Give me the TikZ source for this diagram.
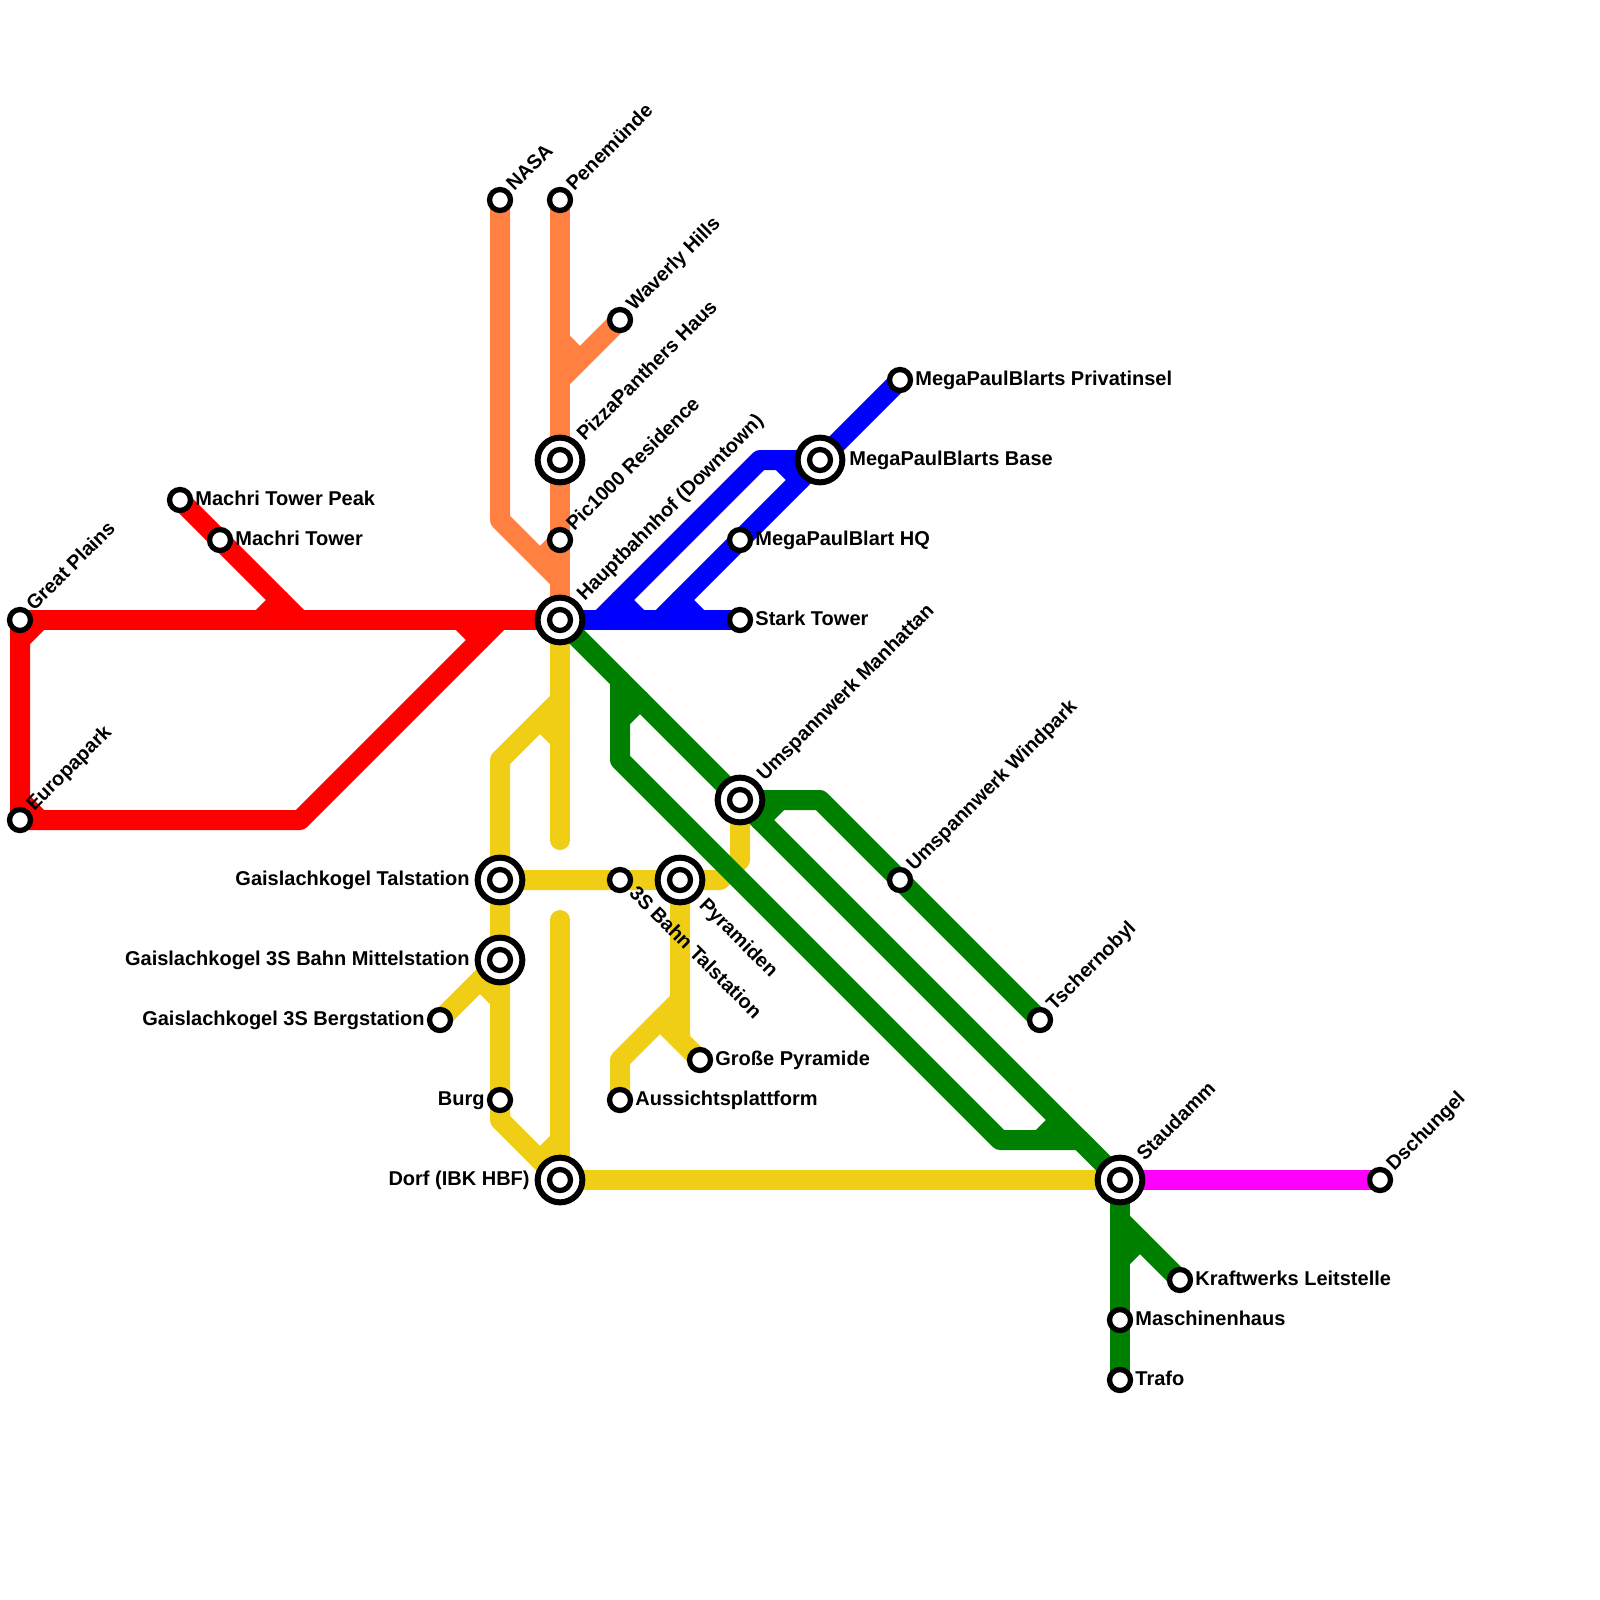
\documentclass[tikz,border=0pt]{standalone}
\usepackage{fontspec}
\setmainfont{Liberation Sans}
\usetikzlibrary{backgrounds}
\definecolor{lred}{HTML}{FF0000}
\definecolor{lorange}{HTML}{FF8040}
\definecolor{lblue}{HTML}{0000FF}
\definecolor{lgreen}{HTML}{008000}
\definecolor{lyellow}{HTML}{F0CE15}
\definecolor{lmag}{HTML}{FF00FF}
\tikzset{
  stn/.style={circle,draw=black,fill=white,line width=2.65pt,inner sep=0pt,outer sep=0pt,minimum size=10.5pt},
  bigring/.style={circle,draw=black,fill=white,line width=3pt,inner sep=0pt,outer sep=0pt,minimum size=22.35pt},
  route/.style={line width=10pt,line cap=round,line join=round},
  txt/.style={inner sep=0pt,font=\fontsize{10pt}{11pt}\selectfont\bfseries,text=black},
  rtxt/.style={inner sep=0pt,font=\fontsize{9.93pt}{11pt}\selectfont\bfseries,text=black},
  lne/.style={rtxt,anchor=base west,rotate=45},
  lse/.style={rtxt,anchor=base west,rotate=-45},
  lr/.style={txt,anchor=base west},
  ll/.style={txt,anchor=base east},
}
\newcommand\StnS[3]{\node[stn] (#1) at (#2,#3) {};}
\newcommand\StnB[3]{\node[bigring] (#1) at (#2,#3) {};\node[stn] (#1-in) at (#2,#3) {};}
\newcommand\Way[3]{\coordinate (#1) at (#2,#3);}
\begin{document}
\begin{tikzpicture}[x=0.5pt,y=-0.5pt]
\useasboundingbox (0,0) rectangle (1600,1600);
% stations
\StnS{great}{20}{620}\StnS{euro}{20}{820}\StnS{peak}{180}{500}\StnS{machri}{220}{540}
\StnS{nasa}{500}{200}\StnS{pene}{560}{200}\StnS{waverly}{620}{320}\StnS{pic}{560}{540}
\StnS{privat}{900}{380}\StnS{hq}{740}{540}\StnS{stark}{740}{620}
\StnS{wind}{900}{880}\StnS{tscher}{1040}{1020}\StnS{dschungel}{1380}{1180}
\StnS{kraft}{1180}{1280}\StnS{masch}{1120}{1320}\StnS{trafo}{1120}{1380}
\StnS{talst}{620}{880}\StnS{berg}{440}{1020}\StnS{burg}{500}{1100}
\StnS{gross}{700}{1060}\StnS{auss}{620}{1100}
\StnB{hub}{560}{620}\StnB{pizza}{560}{460}\StnB{base}{820}{460}\StnB{manh}{740}{800}
\StnB{stau}{1120}{1180}\StnB{gtal}{500}{880}\StnB{gmit}{500}{960}\StnB{dorf}{560}{1180}\StnB{pyr}{680}{880}
% labels
\node[lne] (great-l) at ([shift={(14,-8)}]great.center) {Great Plains};
\node[lne] (euro-l) at ([shift={(14,-8)}]euro.center) {Europapark};
\node[lne] (nasa-l) at ([shift={(14,-8)}]nasa.center) {NASA};
\node[lne] (pene-l) at ([shift={(14,-8)}]pene.center) {Penemünde};
\node[lne] (waverly-l) at ([shift={(14,-8)}]waverly.center) {Waverly Hills};
\node[lne] (pic-l) at ([shift={(14,-8)}]pic.center) {Pic1000 Residence};
\node[lne] (wind-l) at ([shift={(14,-8)}]wind.center) {Umspannwerk Windpark};
\node[lne] (tscher-l) at ([shift={(14,-8)}]tscher.center) {Tschernobyl};
\node[lne] (dschungel-l) at ([shift={(14,-8)}]dschungel.center) {Dschungel};
\node[lne] (pizza-l) at ([shift={(24.5,-18)}]pizza.center) {PizzaPanthers Haus};
\node[lne] (hub-l) at ([shift={(24.5,-18)}]hub.center) {Hauptbahnhof (Downtown)};
\node[lne] (manh-l) at ([shift={(24.5,-18)}]manh.center) {Umspannwerk Manhattan};
\node[lne] (stau-l) at ([shift={(24.5,-18)}]stau.center) {Staudamm};
\node[lse] (talst-l) at ([shift={(8,14)}]talst.center) {3S Bahn Talstation};
\node[lse] (pyr-l) at ([shift={(18,26)}]pyr.center) {Pyramiden};
\node[lr] (peak-l) at ([shift={(15,5.5)}]peak.center) {Machri Tower Peak};
\node[lr] (machri-l) at ([shift={(15,5.5)}]machri.center) {Machri Tower};
\node[lr] (hq-l) at ([shift={(15,5.5)}]hq.center) {MegaPaulBlart HQ};
\node[lr] (stark-l) at ([shift={(15,5.5)}]stark.center) {Stark Tower};
\node[lr] (privat-l) at ([shift={(15,5.5)}]privat.center) {MegaPaulBlarts Privatinsel};
\node[lr] (gross-l) at ([shift={(15,5.5)}]gross.center) {Große Pyramide};
\node[lr] (auss-l) at ([shift={(15,5.5)}]auss.center) {Aussichtsplattform};
\node[lr] (kraft-l) at ([shift={(15,5.5)}]kraft.center) {Kraftwerks Leitstelle};
\node[lr] (masch-l) at ([shift={(15,5.5)}]masch.center) {Maschinenhaus};
\node[lr] (trafo-l) at ([shift={(15,5.5)}]trafo.center) {Trafo};
\node[lr] (base-l) at ([shift={(29,5.5)}]base.center) {MegaPaulBlarts Base};
\node[ll] (gtal-l) at ([shift={(-30,5.5)}]gtal.center) {Gaislachkogel Talstation};
\node[ll] (gmit-l) at ([shift={(-30,5.5)}]gmit.center) {Gaislachkogel 3S Bahn Mittelstation};
\node[ll] (dorf-l) at ([shift={(-30,5.5)}]dorf.center) {Dorf (IBK HBF)};
\node[ll] (berg-l) at ([shift={(-15,5.5)}]berg.center) {Gaislachkogel 3S Bergstation};
\node[ll] (burg-l) at ([shift={(-15,5.5)}]burg.center) {Burg};
% waypoints
\Way{r1}{40}{620}\Way{r2}{20}{640}\Way{r3}{20}{800}\Way{r4}{40}{820}\Way{r5}{300}{820}\Way{r6}{500}{620}
\Way{r7}{480}{640}\Way{r8}{460}{620}\Way{r9}{280}{600}\Way{r10}{300}{620}\Way{r11}{260}{620}
\Way{o1}{500}{520}\Way{o2}{560}{580}\Way{o3}{540}{560}\Way{o4}{580}{360}\Way{o5}{560}{380}\Way{o6}{560}{340}
\Way{b1}{600}{620}\Way{b2}{760}{460}\Way{b3}{660}{620}\Way{b4}{620}{600}\Way{b5}{640}{620}\Way{b6}{680}{600}\Way{b7}{700}{620}\Way{b8}{780}{460}\Way{b9}{800}{480}
\Way{g1}{620}{680}\Way{g2}{620}{760}\Way{g3}{1000}{1140}\Way{g4}{1080}{1140}\Way{g5}{620}{720}\Way{g6}{640}{700}
\Way{g7}{820}{800}\Way{g8}{760}{820}\Way{g9}{780}{800}\Way{g10}{1040}{1140}\Way{g11}{1060}{1120}
\Way{g12}{1120}{1220}\Way{g13}{1120}{1260}\Way{g14}{1140}{1240}
\Way{y1}{560}{840}\Way{y2}{560}{700}\Way{y3}{500}{760}\Way{y4}{540}{720}\Way{y5}{560}{740}
\Way{y6}{720}{880}\Way{y7}{740}{860}\Way{y8}{560}{920}\Way{y9}{500}{1120}\Way{y10}{540}{1160}\Way{y11}{560}{1140}
\Way{y12}{480}{980}\Way{y13}{500}{1000}
\Way{y14}{680}{1040}\Way{y15}{680}{1000}\Way{y16}{620}{1060}\Way{y17}{660}{1020}
% routes
\begin{scope}[on background layer]
\draw[route,lyellow] (hub.center) -- (y1);
\draw[route,lyellow] (y2) -- (y3) -- (gtal.center) -- (gmit.center) -- (burg.center) -- (y9) -- (dorf.center);
\draw[route,lyellow] (y4) -- (y5);
\draw[route,lyellow] (gtal.center) -- (talst.center) -- (pyr.center) -- (y6) -- (y7) -- (manh.center);
\draw[route,lyellow] (y8) -- (dorf.center) -- (stau.center);
\draw[route,lyellow] (y10) -- (y11);
\draw[route,lyellow] (berg.center) -- (gmit.center);
\draw[route,lyellow] (y12) -- (y13);
\draw[route,lyellow] (pyr.center) -- (y14) -- (gross.center);
\draw[route,lyellow] (y15) -- (y16) -- (auss.center);
\draw[route,lyellow] (y17) -- (y14);
\draw[route,lred] (great.center) -- (hub.center);
\draw[route,lred] (r1) -- (r2);
\draw[route,lred] (great.center) -- (euro.center) -- (r5) -- (r6);
\draw[route,lred] (r3) -- (r4);
\draw[route,lred] (r7) -- (r8);
\draw[route,lred] (peak.center) -- (machri.center) -- (r10);
\draw[route,lred] (r9) -- (r11);
\draw[route,lorange] (nasa.center) -- (o1) -- (o2);
\draw[route,lorange] (pene.center) -- (pizza.center) -- (pic.center) -- (hub.center);
\draw[route,lorange] (pic.center) -- (o3);
\draw[route,lorange] (waverly.center) -- (o5);
\draw[route,lorange] (o6) -- (o4);
\draw[route,lblue] (hub.center) -- (stark.center);
\draw[route,lblue] (b1) -- (b2) -- (base.center) -- (privat.center);
\draw[route,lblue] (b3) -- (hq.center) -- (base.center);
\draw[route,lblue] (b4) -- (b5);
\draw[route,lblue] (b6) -- (b7);
\draw[route,lblue] (b8) -- (b9);
\draw[route,lgreen] (hub.center) -- (manh.center) -- (stau.center);
\draw[route,lgreen] (g1) -- (g2) -- (g3) -- (g4) -- (stau.center);
\draw[route,lgreen] (g5) -- (g6);
\draw[route,lgreen] (manh.center) -- (g7) -- (wind.center) -- (tscher.center);
\draw[route,lgreen] (g8) -- (g9);
\draw[route,lgreen] (g10) -- (g11);
\draw[route,lgreen] (stau.center) -- (masch.center) -- (trafo.center);
\draw[route,lgreen] (g12) -- (kraft.center);
\draw[route,lgreen] (g13) -- (g14);
\draw[route,lmag] (stau.center) -- (dschungel.center);
\end{scope}
\end{tikzpicture}
\end{document}
